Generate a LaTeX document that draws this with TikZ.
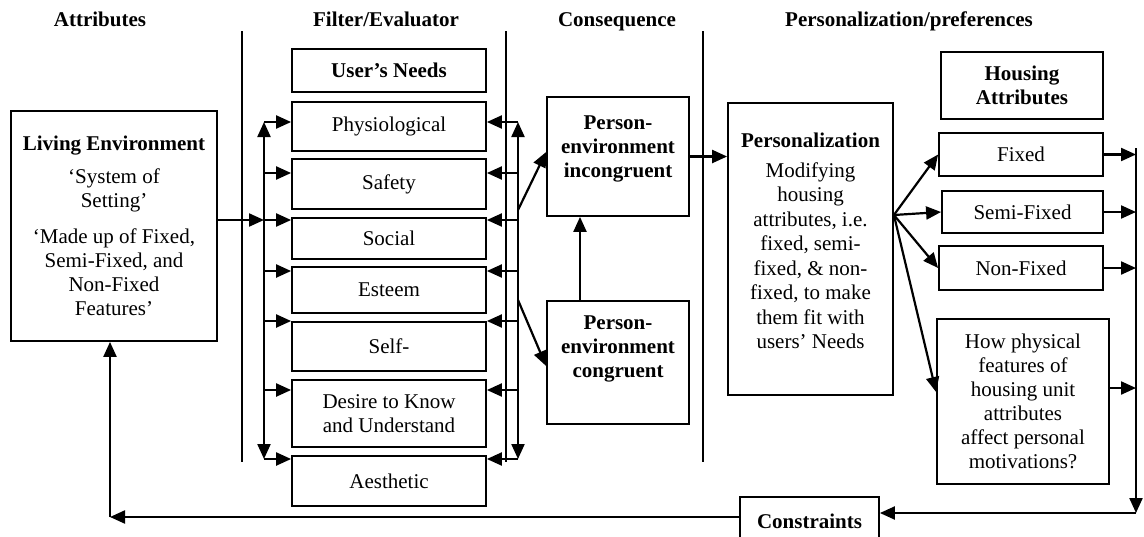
\documentclass[tikz,border=0pt]{standalone}
\usepackage{fontspec}
\setmainfont{Liberation Serif}
\usetikzlibrary{arrows.meta,calc}
\tikzset{
  box/.style={draw, line width=1.8pt, inner sep=0pt, align=center, font=\fontsize{21}{24}\selectfont},
  txt/.style={inner sep=0pt, align=center, font=\fontsize{21}{24}\selectfont},
  hdr/.style={inner sep=0pt, anchor=base, font=\fontsize{21}{24}\selectfont\bfseries},
  arw/.style={line width=2.2pt, -{Triangle[length=15pt,width=13pt]}},
  dbl/.style={line width=2.2pt, {Triangle[length=15pt,width=13pt]}-{Triangle[length=15pt,width=13pt]}},
  sepline/.style={line width=1.3pt}
}
\begin{document}
\begin{tikzpicture}[x=1pt,y=-1pt]
\useasboundingbox (0,0) rectangle (1144,536);
\clip (0,0) rectangle (1144,536);
\fill[white] (0,0) rectangle (1144,536);

% headers
\node[hdr] (h1) at (100,26) {Attributes};
\node[hdr] (h2) at (386,26) {Filter/Evaluator};
\node[hdr] (h3) at (617,26) {Consequence};
\node[hdr] (h4) at (909,26) {Personalization/preferences};

% separators
\draw[sepline] (242,31) -- (242,462);
\draw[sepline] (506,31) -- (506,462);
\draw[sepline] (703,31) -- (703,462);

% living environment
\node[box, minimum width=206pt, minimum height=230pt] (living) at (114,226)
  {\textbf{Living Environment}\\[9pt] ‘System of\\Setting’\\[12pt] ‘Made up of Fixed,\\Semi-Fixed, and\\Non-Fixed\\Features’};

% needs column
\node[box, font=\fontsize{21}{24}\selectfont\bfseries, minimum width=194pt, minimum height=43pt] (needs) at (389,70.5) {User’s Needs};
\node[box, minimum width=194pt, minimum height=49pt] (phys) at (389,126.5) {Physiological};
\node[box, minimum width=194pt, minimum height=50pt] (safe) at (389,184) {Safety};
\node[box, minimum width=194pt, minimum height=41pt] (soc) at (389,238.5) {Social};
\node[box, minimum width=194pt, minimum height=46pt] (est) at (389,290) {Esteem};
\node[box, minimum width=194pt, minimum height=49pt] (self) at (389,346.5) {Self-};
\node[box, minimum width=194pt, minimum height=67pt] (des) at (389,413.5) {Desire to Know\\and Understand};
\node[box, minimum width=194pt, minimum height=50pt] (aes) at (389,481) {Aesthetic};

% consequence boxes
\node[box, minimum width=142pt, minimum height=119pt] (inc) at (618,156.5) {};
\node[txt, font=\fontsize{21}{24}\selectfont\bfseries] (inctxt) at ([yshift=8pt]inc.center) {Person-\\environment\\incongruent};
\node[box, minimum width=142pt, minimum height=123pt] (cong) at (618,362.5) {};
\node[txt, font=\fontsize{21}{24}\selectfont\bfseries] (congtxt) at ([yshift=14pt]cong.center) {Person-\\environment\\congruent};

% personalization
\node[box, minimum width=165pt, minimum height=292pt] (pers) at (810.5,249) {};
\node[txt, font=\fontsize{21}{24.5}\selectfont] (perstxt) at ([yshift=8pt]pers.center)
  {\textbf{Personalization}\\[5pt] Modifying\\housing\\attributes, i.e.\\fixed, semi-\\fixed, \& non-\\fixed, to make\\them fit with\\users’ Needs};

% housing attributes
\node[box, font=\fontsize{21}{24}\selectfont\bfseries, minimum width=162pt, minimum height=67pt] (ha) at (1022,85.5) {Housing\\Attributes};
\node[box, minimum width=164pt, minimum height=43pt] (fixed) at (1021,154.5) {Fixed};
\node[box, minimum width=161pt, minimum height=42pt] (semi) at (1022.5,212) {Semi-Fixed};
\node[box, minimum width=164pt, minimum height=44pt] (non) at (1021,268) {Non-Fixed};
\node[box, minimum width=172pt, minimum height=165pt] (how) at (1023,401.5) {How physical\\features of\\housing unit\\attributes\\affect personal\\motivations?};

% constraints
\node[box, font=\fontsize{21}{24}\selectfont\bfseries, minimum width=139pt, minimum height=48pt] (cons) at (809.5,521) {Constraints};

% left bus
\coordinate (lbtop) at (264,122);
\coordinate (lbbot) at (264,459);
\draw[dbl] (lbbot) -- (lbtop);
\foreach \n/\y in {phys/122, safe/173, soc/220, est/271, self/321, des/390, aes/459}{
  \coordinate (lb-\n) at (264,\y);
  \draw[arw] (lb-\n) -- (lb-\n -| \n.west);
}
\coordinate (lbin) at (264,220);
\draw[arw] (lbin -| living.east) -- (lbin);

% right bus
\coordinate (rbtop) at (518,122);
\coordinate (rbbot) at (518,459);
\draw[dbl] (rbbot) -- (rbtop);
\foreach \n/\y in {phys/122, safe/173, soc/220, est/271, self/321, des/390, aes/459}{
  \coordinate (rb-\n) at (518,\y);
  \draw[arw] (rb-\n) -- (rb-\n -| \n.east);
}
\coordinate (rbd1) at (518,210);
\coordinate (rbd2) at (518,300);
\draw[arw] (rbd1) -- ([yshift=4.5pt]inc.west);
\draw[arw] (rbd2) -- ([yshift=-3.5pt]cong.west);

% consequence links
\draw[arw] ([xshift=-38pt]cong.north) -- ([xshift=-38pt]inc.south);
\draw[arw] (inc.east) -- (inc.east -| pers.west);

% fan
\coordinate (fan) at ([yshift=34pt]pers.east);
\draw[arw] (fan) -- (fixed.west);
\draw[arw] (fan) -- (semi.west);
\draw[arw] (fan) -- (non.west);
\draw[arw] (fan) -- ([yshift=9.5pt]how.west);

% output bus
\coordinate (obtop) at (1136,148);
\coordinate (obbot) at (1136,513);
\draw[arw] (fixed.east) -- (fixed.east -| obtop);
\draw[arw] (semi.east) -- (semi.east -| obtop);
\draw[arw] (non.east) -- (non.east -| obtop);
\draw[arw] ([yshift=13.5pt]how.east) -- ([yshift=13.5pt]how.east -| obtop);
\draw[arw] (obtop) -- (obbot);
\draw[arw] (obbot) -- (obbot -| cons.east);

% feedback
\coordinate (fb) at (110,517);
\draw[arw] (fb -| cons.west) -- (fb);
\draw[arw] (fb) -- (fb |- living.south);
\end{tikzpicture}
\end{document}
